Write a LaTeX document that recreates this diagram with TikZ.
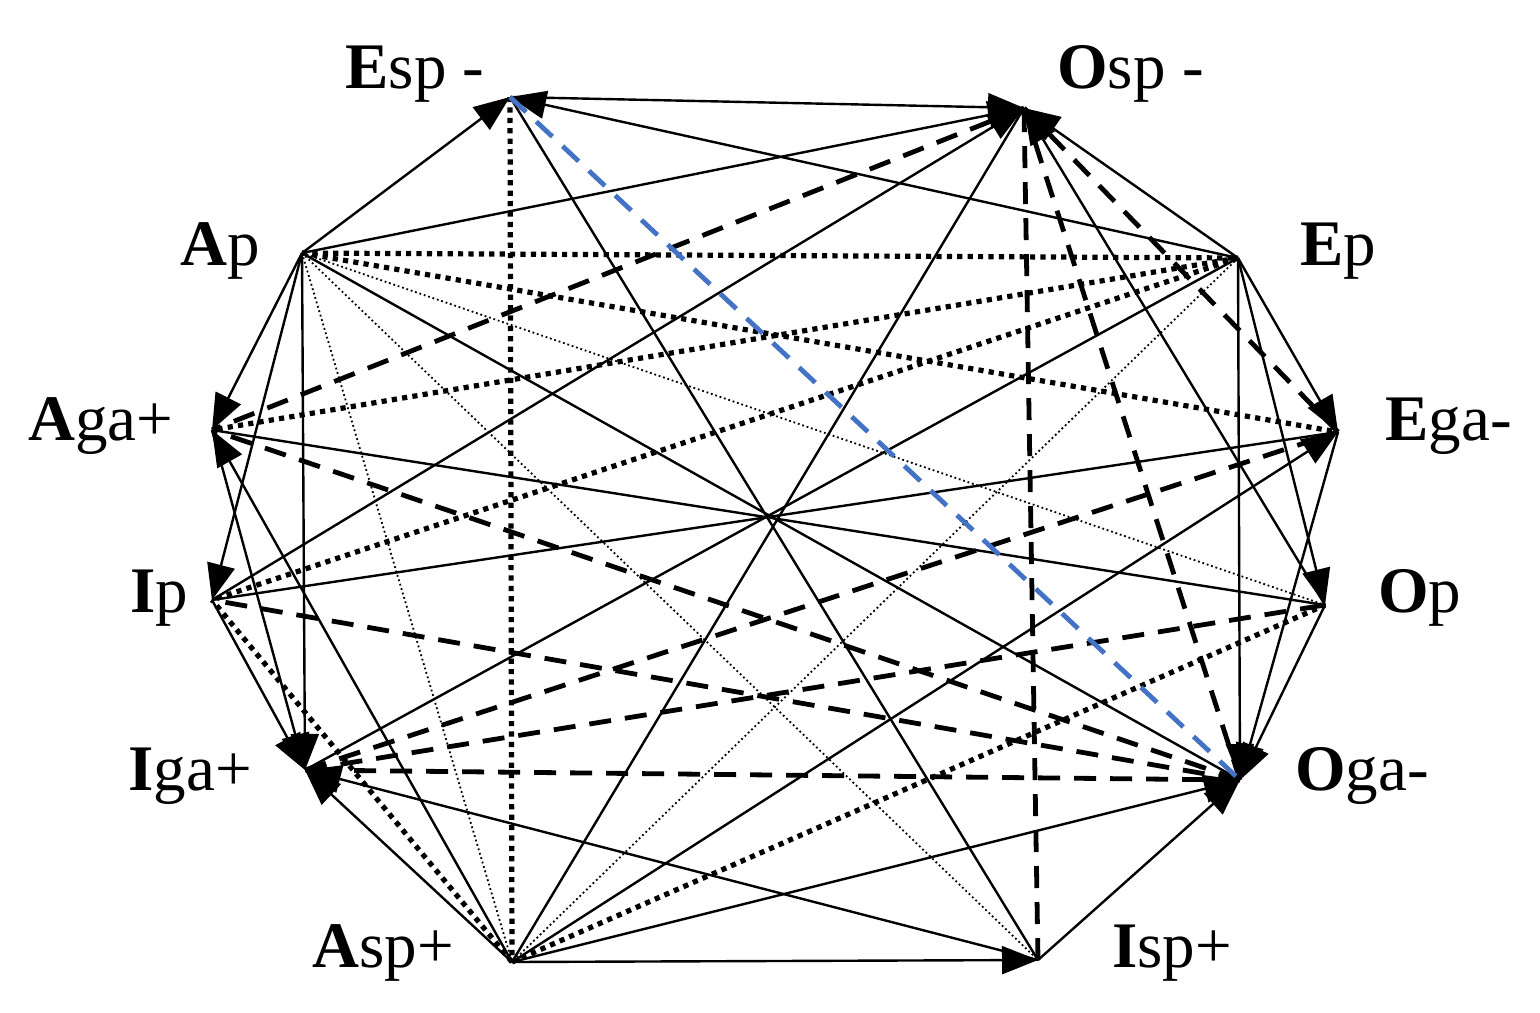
\documentclass[tikz,border=0pt]{standalone}
\usepackage{fontspec}
\setmainfont{Liberation Serif}
\usetikzlibrary{arrows.meta}
\definecolor{lineblue}{RGB}{68,114,196}
\begin{document}
\begin{tikzpicture}[x=0.5pt,y=-0.5pt,
	lbl/.style={anchor=base west,inner sep=0pt,font=\fontsize{32.5}{36}\selectfont},
	imp/.style={-{Triangle[length=18pt,width=14pt]},line width=1.2pt},
	contra/.style={line width=1.2pt},
	contrary/.style={line width=2.6pt,dash pattern=on 2.6pt off 2.6pt},
	subcon/.style={line width=2.4pt,dash pattern=on 11pt off 7pt},
	indep/.style={line width=0.9pt,dash pattern=on 0.9pt off 1.4pt},
	blueline/.style={lineblue,line width=2.4pt,dash pattern=on 11pt off 7pt}]
		\useasboundingbox (0,0) rectangle (1540,1012);
		% 頂点
		\coordinate (Esp) at (510,97);
		\coordinate (Osp) at (1024,108);
		\coordinate (Ap) at (302,253);
		\coordinate (Ep) at (1238,258);
		\coordinate (Aga) at (212,430);
		\coordinate (Ega) at (1338,432);
		\coordinate (Ip) at (212,600);
		\coordinate (Op) at (1325,605);
		\coordinate (Iga) at (305,770);
		\coordinate (Oga) at (1240,780);
		\coordinate (Asp) at (512,962);
		\coordinate (Isp) at (1038,960);
		% ラベル
		\node[lbl] (tEsp) at (345,88) {\textbf{E}sp -};
		\node[lbl] (tOsp) at (1057,88) {\textbf{O}sp -};
		\node[lbl] (tAp) at (180,265) {\textbf{A}p};
		\node[lbl] (tEp) at (1300,265) {\textbf{E}p};
		\node[lbl] (tAga) at (28,440) {\textbf{A}ga+};
		\node[lbl] (tEga) at (1385,440) {\textbf{E}ga-};
		\node[lbl] (tIp) at (130,612) {\textbf{I}p};
		\node[lbl] (tOp) at (1378,612) {\textbf{O}p};
		\node[lbl] (tIga) at (128,790) {\textbf{I}ga+};
		\node[lbl] (tOga) at (1295,790) {\textbf{O}ga-};
		\node[lbl] (tAsp) at (312,967) {\textbf{A}sp+};
		\node[lbl] (tIsp) at (1112,967) {\textbf{I}sp+};
		% 細い点線
		\draw[indep] (Ap)--(Asp);
		\draw[indep] (Ap)--(Isp);
		\draw[indep] (Ap)--(Op);
		\draw[indep] (Ep)--(Asp);
		% 太い点線
		\draw[contrary] (Ap)--(Ep);
		\draw[contrary] (Ap)--(Ega);
		\draw[contrary] (Ep)--(Aga);
		\draw[contrary] (Ep)--(Ip);
		\draw[contrary] (Esp)--(Asp);
		\draw[contrary] (Asp)--(Ip);
		\draw[contrary] (Asp)--(Op);
		% 破線
		\draw[subcon] (Oga)--(Iga);
		\draw[subcon] (Oga)--(Ip);
		\draw[subcon] (Oga)--(Aga);
		\draw[subcon] (Oga)--(Osp);
		\draw[subcon] (Iga)--(Op);
		\draw[subcon] (Iga)--(Ega);
		\draw[subcon] (Isp)--(Osp);
		\draw[subcon] (Osp)--(Ega);
		\draw[subcon] (Osp)--(Aga);
		% 中心を通る線
		\draw[contra] (Esp)--(Isp);
		\draw[contra] (Osp)--(Asp);
		\draw[contra] (Ap)--(Oga);
		\draw[contra] (Ep)--(Iga);
		\draw[contra] (Aga)--(Op);
		\draw[contra] (Ega)--(Ip);
		% 矢印
		\draw[imp] (Ap)--(Esp);
		\draw[imp] (Ap)--(Osp);
		\draw[imp] (Ep)--(Esp);
		\draw[imp] (Ep)--(Osp);
		\draw[imp] (Esp)--(Osp);
		\draw[imp] (Ap)--(Aga);
		\draw[imp] (Ap)--(Ip);
		\draw[imp] (Ap)--(Iga);
		\draw[imp] (Ep)--(Ega);
		\draw[imp] (Ep)--(Op);
		\draw[imp] (Ep)--(Oga);
		\draw[imp] (Asp)--(Aga);
		\draw[imp] (Asp)--(Ega);
		\draw[imp] (Asp)--(Iga);
		\draw[imp] (Asp)--(Oga);
		\draw[imp] (Asp)--(Isp);
		\draw[imp] (Aga)--(Iga);
		\draw[imp] (Ip)--(Iga);
		\draw[imp] (Isp)--(Iga);
		\draw[imp] (Isp)--(Oga);
		\draw[imp] (Ega)--(Oga);
		\draw[imp] (Op)--(Oga);
		\draw[imp] (Op)--(Osp);
		\draw[imp] (Ip)--(Osp);
		% 青い破線
		\draw[blueline] (Esp)--(Oga);
	\end{tikzpicture}
\end{document}
